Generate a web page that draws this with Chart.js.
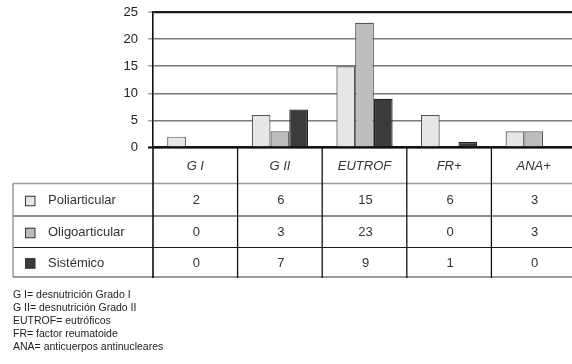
<!DOCTYPE html>
<html>
<head>
<meta charset="utf-8">
<script src="https://cdn.jsdelivr.net/npm/chart.js@4/dist/chart.umd.min.js"></script>
<style>
  html, body { margin: 0; padding: 0; background: #fff; overflow: hidden; }
  #wrap { width: 572px; height: 364px; overflow: hidden; }
  canvas { display: block; }
</style>
</head>
<body>
<div id="wrap"><canvas id="c" width="576" height="364"></canvas></div>
<script>
// Categories and series counts
const categories = ['G I', 'G II', 'EUTROF', 'FR+', 'ANA+'];
const seriesNames = ['Poliarticular', 'Oligoarticular', 'Sistémico'];
const poliarticular = [2, 6, 15, 6, 3];
const oligoarticular = [0, 3, 23, 0, 3];
const sistemico = [0, 7, 9, 1, 0];
const yMin = 0, yMax = 25, yStep = 5;
const footnotes = [
  'G I= desnutrición Grado I',
  'G II= desnutrición Grado II',
  'EUTROF= eutróficos',
  'FR= factor reumatoide',
  'ANA= anticuerpos antinucleares'
];

const FONT = '"Liberation Sans", Arial, Helvetica, sans-serif';
const fills = ['#e6e6e6', '#bdbdbf', '#3b3b3b'];
const borders = ['#555555', '#555555', '#222222'];
const seriesValues = [poliarticular, oligoarticular, sistemico];

// Data table drawn under the plot, aligned on the x scale's columns
const tablePlugin = {
  id: 'dataTable',
  afterDatasetsDraw(chart) {
    const ctx = chart.ctx, ca = chart.chartArea;
    ctx.save();
    // baseline drawn over the bars' bottom edges
    ctx.strokeStyle = '#111';
    ctx.lineWidth = 2.2;
    ctx.beginPath();
    ctx.moveTo(ca.left - 5, ca.bottom); ctx.lineTo(ca.right, ca.bottom);
    ctx.stroke();
    ctx.restore();
  },
  afterDraw(chart) {
    const ctx = chart.ctx, ca = chart.chartArea, xs = chart.scales.x;
    const n = categories.length;
    const colW = (ca.right - ca.left) / n;
    const headerBottom = ca.bottom + 36;
    const rowEdges = [headerBottom, headerBottom + 32.5, headerBottom + 64, headerBottom + 93.5];
    const tableLeft = 13;
    const tableBottom = rowEdges[3];

    ctx.save();
    // horizontal rules
    const hline = (y, color, w) => {
      ctx.strokeStyle = color; ctx.lineWidth = w;
      ctx.beginPath(); ctx.moveTo(tableLeft, y); ctx.lineTo(ca.right, y); ctx.stroke();
    };
    hline(rowEdges[0], '#9a9a9a', 1.5);
    hline(rowEdges[1], '#1a1a1a', 1.1);
    hline(rowEdges[2], '#1a1a1a', 1.1);
    hline(tableBottom, '#9a9a9a', 2);
    // left border
    ctx.strokeStyle = '#9a9a9a'; ctx.lineWidth = 1.5;
    ctx.beginPath(); ctx.moveTo(tableLeft, rowEdges[0]); ctx.lineTo(tableLeft, tableBottom); ctx.stroke();
    // column separators
    ctx.strokeStyle = '#111';
    for (let i = 0; i < n; i++) {
      const x = xs.getPixelForValue(i) - colW / 2;
      ctx.lineWidth = i === 0 ? 1.6 : 1.3;
      ctx.beginPath(); ctx.moveTo(x, ca.bottom); ctx.lineTo(x, tableBottom + 1); ctx.stroke();
    }

    // header labels
    ctx.fillStyle = '#333';
    ctx.textAlign = 'center';
    ctx.textBaseline = 'middle';
    ctx.font = 'italic 13px ' + FONT;
    categories.forEach((c, i) => {
      ctx.fillText(c, xs.getPixelForValue(i), (ca.bottom + headerBottom) / 2 + 1);
    });

    // rows: legend key, series name, values
    ctx.font = '13px ' + FONT;
    seriesNames.forEach((name, r) => {
      const yc = (rowEdges[r] + rowEdges[r + 1]) / 2 + 1;
      ctx.fillStyle = fills[r];
      ctx.fillRect(25, yc - 5, 10, 10);
      ctx.strokeStyle = '#333'; ctx.lineWidth = 1;
      ctx.strokeRect(25.5, yc - 4.5, 9.5, 9.5);
      ctx.fillStyle = '#333';
      ctx.textAlign = 'left';
      ctx.fillText(name, 48, yc);
      ctx.textAlign = 'center';
      seriesValues[r].forEach((v, i) => {
        ctx.fillText(String(v), xs.getPixelForValue(i) + 1, yc);
      });
    });

    // footnotes
    ctx.textAlign = 'left';
    ctx.textBaseline = 'alphabetic';
    ctx.font = '10.5px ' + FONT;
    ctx.fillStyle = '#222';
    footnotes.forEach((t, i) => ctx.fillText(t, 13, 298 + i * 12.9));
    ctx.restore();
  }
};

new Chart(document.getElementById('c'), {
  type: 'bar',
  data: {
    labels: categories,
    datasets: seriesNames.map((name, i) => ({
      label: name,
      data: seriesValues[i],
      backgroundColor: fills[i],
      borderColor: borders[i],
      borderWidth: 1.2,
      categoryPercentage: 0.665,
      barPercentage: 1.0
    }))
  },
  options: {
    responsive: false,
    animation: false,
    devicePixelRatio: 1,
    layout: { padding: { top: 12, bottom: 216.5, left: 0, right: 0 } },
    plugins: { legend: { display: false }, tooltip: { enabled: false } },
    scales: {
      x: { display: false },
      y: {
        min: yMin,
        max: yMax,
        ticks: {
          stepSize: yStep,
          color: '#222',
          padding: 10,
          font: { family: FONT, size: 13 }
        },
        grid: {
          color: c => (c.tick && (c.tick.value === yMax || c.tick.value === yMin)) ? '#1a1a1a' : '#7a7a7a',
          lineWidth: c => (c.tick && (c.tick.value === yMax || c.tick.value === yMin)) ? 2.2 : 1.6,
          tickLength: 5,
          tickColor: '#8a8a8a',
          tickWidth: 1.2
        },
        border: { color: '#111', width: 1.6 },
        afterFit: s => { s.width = 153; s.paddingTop = 0; s.paddingBottom = 0; }
      }
    }
  },
  plugins: [tablePlugin]
});
</script>
</body>
</html>
